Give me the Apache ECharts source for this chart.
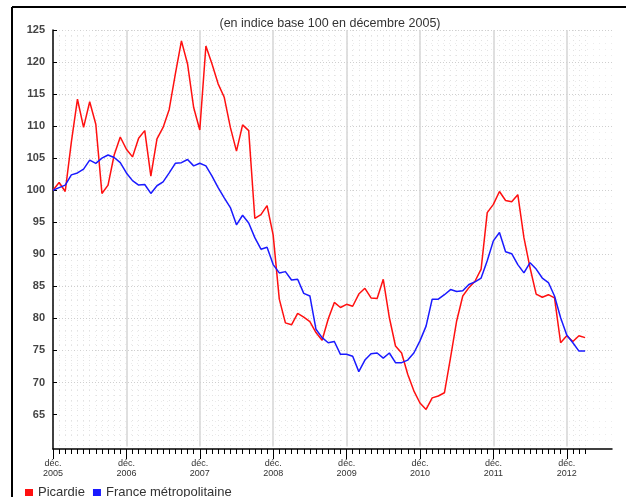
<!DOCTYPE html>
<html>
<head>
<meta charset="utf-8">
<script src="https://cdn.jsdelivr.net/npm/echarts@6/dist/echarts.min.js"></script>
<style>
  html, body { margin: 0; padding: 0; background: #fff; }
  #chart { width: 626px; height: 497px; }
</style>
</head>
<body>
<div id="chart"></div>
<script>
// indice base 100 en décembre 2005, un point par mois (déc. 2005 -> mars 2013)
const picardie = [
  100, 101.2, 99.8, 107.5, 114.2, 109.8, 113.8, 110.3, 99.5, 100.8, 105.5, 108.3,
  106.4, 105.2, 108.1, 109.3, 102.2, 108, 109.8, 112.6, 118.1, 123.3, 119.7, 112.9,
  109.4, 122.5, 119.7, 116.6, 114.5, 109.8, 106.1, 110.2, 109.3, 95.6, 96.2, 97.6,
  93, 83, 79.3, 79, 80.8, 80.2, 79.5, 77.8, 76.6, 79.9, 82.5, 81.7,
  82.2, 81.9, 83.8, 84.7, 83.2, 83.1, 86.1, 80.1, 75.7, 74.6, 71.3, 68.7,
  66.8, 65.8, 67.6, 67.9, 68.4, 73.9, 79.6, 83.5, 84.8, 85.8, 87.7, 96.5,
  97.8, 99.8, 98.4, 98.2, 99.3, 92.6, 87.9, 83.8, 83.3, 83.7, 83.2, 76.2,
  77.3, 76.4, 77.3, 77
];
const france = [
  100, 100.4, 100.8, 102.4, 102.7, 103.3, 104.7, 104.2, 105, 105.5, 105.1, 104.3,
  102.7, 101.5, 100.8, 100.9, 99.5, 100.7, 101.3, 102.7, 104.2, 104.3, 104.8, 103.8,
  104.2, 103.8, 102.2, 100.4, 98.8, 97.3, 94.6, 96.1, 94.9, 92.6, 90.8, 91.1,
  88.4, 87.1, 87.3, 86, 86.1, 83.9, 83.5, 78.3, 77, 76.2, 76.4, 74.4,
  74.4, 74.1, 71.7, 73.5, 74.5, 74.6, 73.8, 74.6, 73.1, 73.1, 73.5, 74.6,
  76.5, 78.8, 83, 83, 83.7, 84.5, 84.2, 84.3, 85.3, 85.7, 86.3, 89,
  92.1, 93.4, 90.4, 90.1, 88.4, 87.1, 88.7, 87.7, 86.3, 85.6, 83.5, 80.1,
  77.4, 76.2, 74.9, 74.9
];
const yearLabels = ["2005", "2006", "2007", "2008", "2009", "2010", "2011", "2012"];
const yTicks = [65, 70, 75, 80, 85, 90, 95, 100, 105, 110, 115, 120, 125];

const lastMonth = picardie.length - 1;
const yearTicks = yearLabels.map((y, i) => i * 12);

const chartDom = document.getElementById("chart");
const myChart = echarts.init(chartDom, null, { renderer: "canvas" });

let option = {
  animation: false,
  backgroundColor: "#fff",
  textStyle: { fontFamily: "Liberation Sans" },
  title: {
    text: "(en indice base 100 en décembre 2005)",
    left: 325,
    top: 12,
    textAlign: "center",
    textStyle: { fontSize: 12.5, fontWeight: "normal", color: "#333", fontFamily: "Liberation Sans" },
  },
  legend: {
    left: 20,
    top: 481,
    icon: "rect",
    itemWidth: 8,
    itemHeight: 7,
    itemGap: 8,
    textStyle: { fontSize: 13, color: "#333", fontFamily: "Liberation Sans" },
    data: ["Picardie", "France métropolitaine"],
  },
  graphic: [
    { type: "line", shape: { x1: 12, y1: 7, x2: 626, y2: 7 }, style: { stroke: "#000", lineWidth: 2 } },
    { type: "line", shape: { x1: 12, y1: 7, x2: 12, y2: 497 }, style: { stroke: "#000", lineWidth: 2 } },
  ],
  grid: [
    // zone des courbes
    { left: 53, right: 14, top: 30, bottom: 50.4 },
    // graduations mensuelles, jusqu'au dernier mois
    { left: 53, right: 40.8, top: 30, bottom: 48 },
  ],
  xAxis: [
    {
      type: "value",
      gridIndex: 0,
      position: "bottom",
      min: 0,
      max: 91.4,
      interval: 12,
      offset: 2.4,
      axisLine: { show: true, lineStyle: { color: "#000", width: 1.5 } },
      axisTick: { show: false },
      axisLabel: { show: false },
      splitLine: {
        show: true,
        showMinLine: false,
        showMaxLine: false,
        lineStyle: { color: "#d4d4d4", width: 1.5 },
      },
    },
    {
      type: "value",
      gridIndex: 1,
      position: "bottom",
      min: 0,
      max: lastMonth,
      interval: 1,
      axisLine: { show: false },
      axisTick: { show: true, length: 5, lineStyle: { color: "#000", width: 1 } },
      axisLabel: { show: false },
      splitLine: {
        show: true,
        showMinLine: false,
        lineStyle: { color: "#e2e2e2", type: [1, 4] },
      },
    },
    {
      type: "value",
      gridIndex: 1,
      position: "bottom",
      min: 0,
      max: lastMonth,
      axisLine: { show: false },
      axisTick: { show: true, length: 10, customValues: yearTicks, lineStyle: { color: "#000", width: 1 } },
      axisLabel: {
        show: true,
        customValues: yearTicks,
        margin: 10,
        fontSize: 9,
        lineHeight: 10,
        color: "#333",
        fontFamily: "Liberation Sans",
        formatter: (v) => "déc.\n" + yearLabels[Math.round(v / 12)],
      },
      splitLine: { show: false },
    },
  ],
  yAxis: [
    {
      type: "value",
      gridIndex: 0,
      min: 60,
      max: 125,
      interval: 5,
      axisLine: { show: false },
      axisTick: { show: true, inside: true, length: 4, customValues: yTicks, lineStyle: { color: "#000" } },
      axisLabel: {
        customValues: yTicks,
        margin: 8,
        fontSize: 11,
        fontWeight: "bold",
        color: "#444",
        fontFamily: "Liberation Sans",
      },
      splitLine: {
        show: true,
        showMinLine: false,
        lineStyle: { color: "#cfcfcf", type: [1, 2] },
      },
      minorTick: { show: false, splitNumber: 5 },
      minorSplitLine: { show: true, lineStyle: { color: "#ececec", type: [1, 5] } },
    },
    {
      type: "value",
      gridIndex: 1,
      min: 0,
      max: 1,
      axisLine: { show: true, lineStyle: { color: "#000", width: 1.5 } },
      axisTick: { show: false },
      axisLabel: { show: false },
      splitLine: { show: false },
    },
  ],
  series: [
    {
      name: "Picardie",
      type: "line",
      xAxisIndex: 0,
      yAxisIndex: 0,
      symbol: "none",
      data: picardie.map((v, i) => [i, v]),
      lineStyle: { color: "#ff1010", width: 1.5 },
      itemStyle: { color: "#ff1010" },
    },
    {
      name: "France métropolitaine",
      type: "line",
      xAxisIndex: 0,
      yAxisIndex: 0,
      symbol: "none",
      data: france.map((v, i) => [i, v]),
      lineStyle: { color: "#1a1aff", width: 1.5 },
      itemStyle: { color: "#1a1aff" },
    },
  ],
};
myChart.setOption(option);
</script>
</body>
</html>
